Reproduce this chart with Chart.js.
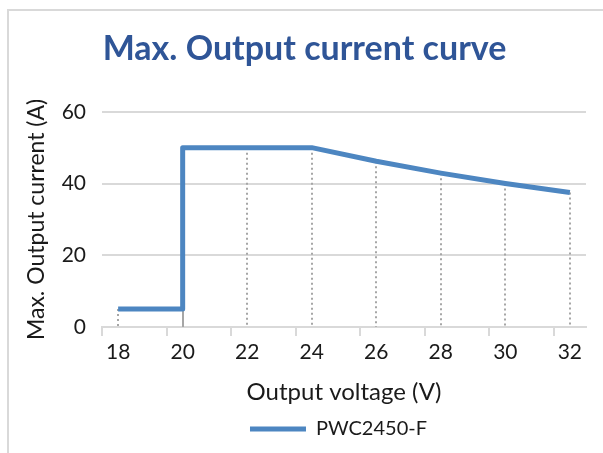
<!DOCTYPE html>
<html>
<head>
<meta charset="utf-8">
<script src="https://cdn.jsdelivr.net/npm/chart.js@4.4.0/dist/chart.umd.min.js"></script>
<style>
  html, body { margin: 0; padding: 0; background: #fff; }
  #wrap { position: relative; width: 603px; height: 453px; }
  #frame { position: absolute; left: 7px; top: 9px; right: -10px; bottom: -10px;
           border-left: 2px solid #d9d9d9; border-top: 2px solid #d9d9d9; }
  canvas { position: absolute; left: 0; top: 0; }
</style>
</head>
<body>
<div id="wrap">
  <div id="frame"></div>
  <canvas id="curveChart" width="603" height="453"></canvas>
</div>
<script>
// voltage (V) and max current (A); the step at 20 V has two points
const voltages = [18, 20, 20, 22, 24, 26, 28, 30, 32];
const currents = [5, 5, 50, 50, 50, 46.2, 42.9, 40, 37.5];
const xTickLabels = [18, 20, 22, 24, 26, 28, 30, 32];
const yTickLabels = [0, 20, 40, 60];

const seriesName = 'PWC2450-F';
const lineColor = '#4d86c1';
const fontFamily = 'Lato, "Open Sans", sans-serif';

const points = voltages.map((v, i) => ({ x: v, y: currents[i] }));

// drop lines from each point down to the x axis
const dropLines = {
  id: 'dropLines',
  afterLayout(chart) {
    // Excel centres the legend a bit right of the canvas middle
    chart.legend.left += 34;
    chart.legend.right += 34;
  },
  beforeDatasetsDraw(chart) {
    const ctx = chart.ctx;
    const meta = chart.getDatasetMeta(0);
    const bottom = chart.chartArea.bottom;
    ctx.save();
    ctx.strokeStyle = '#a6a6a6';
    ctx.lineWidth = 2;
    meta.data.forEach((pt, i) => {
      // the lower point of the step gets a solid line
      const step = voltages[i + 1] === voltages[i];
      ctx.setLineDash(step ? [] : [2, 3]);
      ctx.beginPath();
      ctx.moveTo(Math.round(pt.x), pt.y);
      ctx.lineTo(Math.round(pt.x), bottom);
      ctx.stroke();
    });
    ctx.restore();
  }
};

new Chart(document.getElementById('curveChart'), {
  type: 'line',
  data: {
    datasets: [{
      label: seriesName,
      data: points,
      borderColor: lineColor,
      backgroundColor: lineColor,
      borderWidth: 5,
      pointRadius: 0,
      tension: 0,
      borderJoinStyle: 'round',
    }],
  },
  options: {
    responsive: false,
    animation: false,
    devicePixelRatio: 1,
    layout: { padding: { left: 23, right: 17, top: 10, bottom: 4 } },
    scales: {
      x: {
        type: 'linear',
        min: 17.5,
        max: 32.5,
        afterBuildTicks(scale) {
          // labels on even volts, tick marks half a step before them
          const t = [];
          xTickLabels.forEach(v => { t.push({ value: v - 0.5 }); t.push({ value: v }); });
          scale.ticks = t;
        },
        afterFit(scale) { scale.height = 88; },
        ticks: {
          autoSkip: false,
          maxRotation: 0,
          padding: 4,
          color: '#1a1a1a',
          font: { family: fontFamily, size: 21 },
          callback: v => (xTickLabels.includes(v) ? String(v) : ''),
        },
        grid: {
          drawOnChartArea: false,
          drawTicks: true,
          tickLength: 9,
          tickColor: c => (c.tick && !xTickLabels.includes(c.tick.value) ? '#d9d9d9' : 'rgba(0,0,0,0)'),
          lineWidth: 2,
        },
        border: { display: true, color: '#d9d9d9', width: 2 },
        title: {
          display: true,
          text: 'Output voltage (V)',
          color: '#1a1a1a',
          font: { family: fontFamily, size: 24 },
          padding: { top: 4, bottom: 8 },
        },
      },
      y: {
        min: 0,
        max: 60,
        afterBuildTicks(scale) {
          scale.ticks = yTickLabels.map(v => ({ value: v }));
        },
        afterFit(scale) { scale.width = 79; },
        ticks: {
          padding: 16,
          color: '#1a1a1a',
          font: { family: fontFamily, size: 21 },
        },
        grid: {
          color: c => (c.tick && c.tick.value === 0 ? 'rgba(0,0,0,0)' : '#d9d9d9'),
          lineWidth: 2,
          drawTicks: false,
        },
        border: { display: false },
        title: {
          display: true,
          text: 'Max. Output current (A)',
          color: '#1a1a1a',
          font: { family: fontFamily, size: 23 },
          padding: { top: 0, bottom: 4 },
        },
      },
    },
    plugins: {
      title: {
        display: true,
        text: 'Max. Output current curve',
        color: '#2f5597',
        font: { family: fontFamily, size: 34, weight: 'bold' },
        padding: { top: 19, bottom: 42 },
      },
      legend: {
        position: 'bottom',
        labels: {
          color: '#1a1a1a',
          font: { family: fontFamily, size: 20 },
          boxWidth: 56,
          boxHeight: 5,
          padding: 4,
          generateLabels: chart => chart.data.datasets.map((ds, i) => ({
            text: ds.label,
            fillStyle: ds.borderColor,
            strokeStyle: ds.borderColor,
            lineWidth: 0,
            datasetIndex: i,
            fontColor: '#1a1a1a',
          })),
        },
      },
      tooltip: { enabled: false },
    },
  },
  plugins: [dropLines],
});
</script>
</body>
</html>
